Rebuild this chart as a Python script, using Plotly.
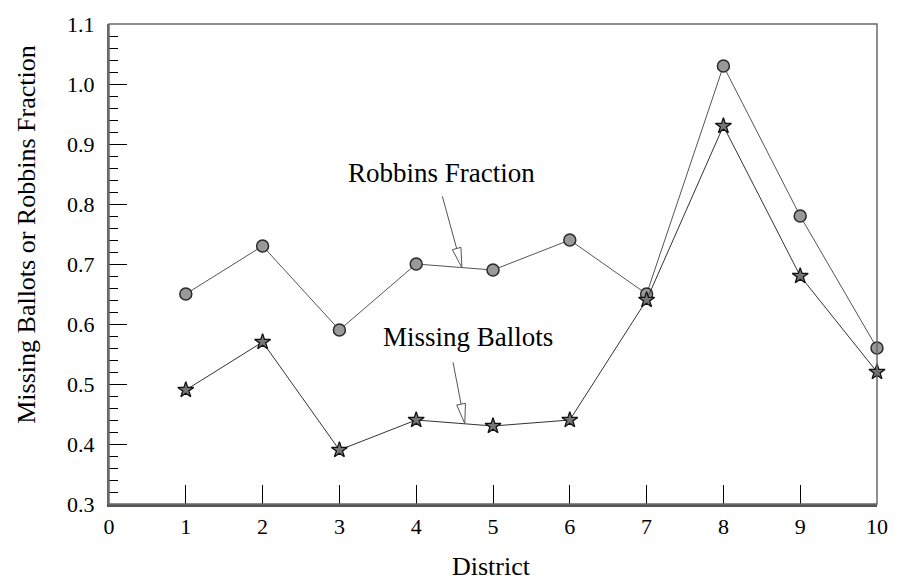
import math
import plotly.graph_objects as go

# District-level values
districts = [1, 2, 3, 4, 5, 6, 7, 8, 9, 10]
robbins_fraction = [0.65, 0.73, 0.59, 0.70, 0.69, 0.74, 0.65, 1.03, 0.78, 0.56]
missing_ballots = [0.49, 0.57, 0.39, 0.44, 0.43, 0.44, 0.64, 0.93, 0.68, 0.52]

x_ticks = list(range(0, 11))
y_ticks = [0.3, 0.4, 0.5, 0.6, 0.7, 0.8, 0.9, 1.0, 1.1]

W, H = 900, 581
M_L, M_R, M_T, M_B = 109, 14, 19, 77
X_RANGE = [0, 10]
Y_RANGE = [0.3, 1.1]
FONT = "Liberation Serif"

fig = go.Figure()

fig.add_trace(go.Scatter(
    x=districts, y=robbins_fraction, mode="lines+markers", name="Robbins Fraction",
    line=dict(color="#555555", width=1),
    marker=dict(symbol="circle", size=12, color="#999999", line=dict(color="#2a2a2a", width=1.5)),
    cliponaxis=False, showlegend=False,
))
fig.add_trace(go.Scatter(
    x=districts, y=missing_ballots, mode="lines+markers", name="Missing Ballots",
    line=dict(color="#333333", width=1),
    marker=dict(symbol="star", size=12, color="#777777", line=dict(color="#111111", width=1.3)),
    cliponaxis=False, showlegend=False,
))

# Pixel <-> data helpers for building the hollow arrowheads
pw = W - M_L - M_R
ph = H - M_T - M_B


def to_px(x, y):
    px = M_L + (x - X_RANGE[0]) / (X_RANGE[1] - X_RANGE[0]) * pw
    py = M_T + (Y_RANGE[1] - y) / (Y_RANGE[1] - Y_RANGE[0]) * ph
    return px, py


def to_data(px, py):
    x = X_RANGE[0] + (px - M_L) / pw * (X_RANGE[1] - X_RANGE[0])
    y = Y_RANGE[1] - (py - M_T) / ph * (Y_RANGE[1] - Y_RANGE[0])
    return x, y


def pointer(tail, head, length=20, half_width=4.5):
    tx, ty = to_px(*tail)
    hx, hy = to_px(*head)
    d = math.hypot(hx - tx, hy - ty)
    ux, uy = (hx - tx) / d, (hy - ty) / d
    bx, by = hx - ux * length, hy - uy * length
    nx, ny = -uy, ux
    p1 = to_data(bx + nx * half_width, by + ny * half_width)
    p2 = to_data(bx - nx * half_width, by - ny * half_width)
    b = to_data(bx, by)
    fig.add_shape(type="line", xref="x", yref="y",
                  x0=tail[0], y0=tail[1], x1=b[0], y1=b[1],
                  line=dict(color="#555555", width=1))
    path = f"M {head[0]},{head[1]} L {p1[0]},{p1[1]} L {p2[0]},{p2[1]} Z"
    fig.add_shape(type="path", xref="x", yref="y", path=path,
                  fillcolor="white", line=dict(color="#555555", width=1))


# Callout labels
fig.add_annotation(x=4.33, y=0.851, xref="x", yref="y", text="Robbins Fraction",
                   showarrow=False, xanchor="center", yanchor="middle",
                   font=dict(family=FONT, size=27, color="black"))
pointer((4.34, 0.813), (4.595, 0.694))

fig.add_annotation(x=4.68, y=0.578, xref="x", yref="y", text="Missing Ballots",
                   showarrow=False, xanchor="center", yanchor="middle",
                   font=dict(family=FONT, size=27, color="black"))
pointer((4.48, 0.536), (4.633, 0.434))

# Axis titles
fig.add_annotation(x=(496 - M_L) / pw, y=-(567 - (H - M_B)) / ph, xref="paper", yref="paper",
                   text="District", showarrow=False, xanchor="center", yanchor="middle",
                   font=dict(family=FONT, size=26, color="black"))
fig.add_annotation(x=(26 - M_L) / pw, y=(H - M_B - 232) / ph, xref="paper", yref="paper",
                   text="Missing Ballots or Robbins Fraction", textangle=-90, showarrow=False,
                   xanchor="center", yanchor="middle",
                   font=dict(family=FONT, size=26, color="black"))

# Frame
fig.add_shape(type="rect", xref="paper", yref="paper", x0=0, y0=0, x1=1, y1=1,
              line=dict(color="#6a6a6a", width=1.5), layer="above")

fig.update_layout(
    width=W, height=H,
    margin=dict(l=M_L, r=M_R, t=M_T, b=M_B, pad=0),
    paper_bgcolor="white", plot_bgcolor="white",
    font=dict(family=FONT, size=22, color="black"),
    xaxis=dict(
        range=X_RANGE, tickmode="array", tickvals=x_ticks, ticktext=[str(v) for v in x_ticks],
        ticks="inside", ticklen=19, tickwidth=1, tickcolor="black",
        showgrid=False, zeroline=False,
        showline=True, linecolor="#555555", linewidth=3,
        ticklabelstandoff=1,
        tickfont=dict(family=FONT, size=22, color="black"),
    ),
    yaxis=dict(
        range=Y_RANGE, tickmode="array", tickvals=y_ticks, ticktext=[f"{v:.1f}" for v in y_ticks],
        ticks="inside", ticklen=18, tickwidth=1, tickcolor="black",
        minor=dict(ticks="inside", ticklen=9, tickwidth=1, tickcolor="black", dtick=0.02, showgrid=False),
        showgrid=False, zeroline=False,
        showline=True, linecolor="#6a6a6a", linewidth=2,
        ticklabelstandoff=8,
        tickfont=dict(family=FONT, size=22, color="black"),
    ),
)

fig.write_html("out.html")
